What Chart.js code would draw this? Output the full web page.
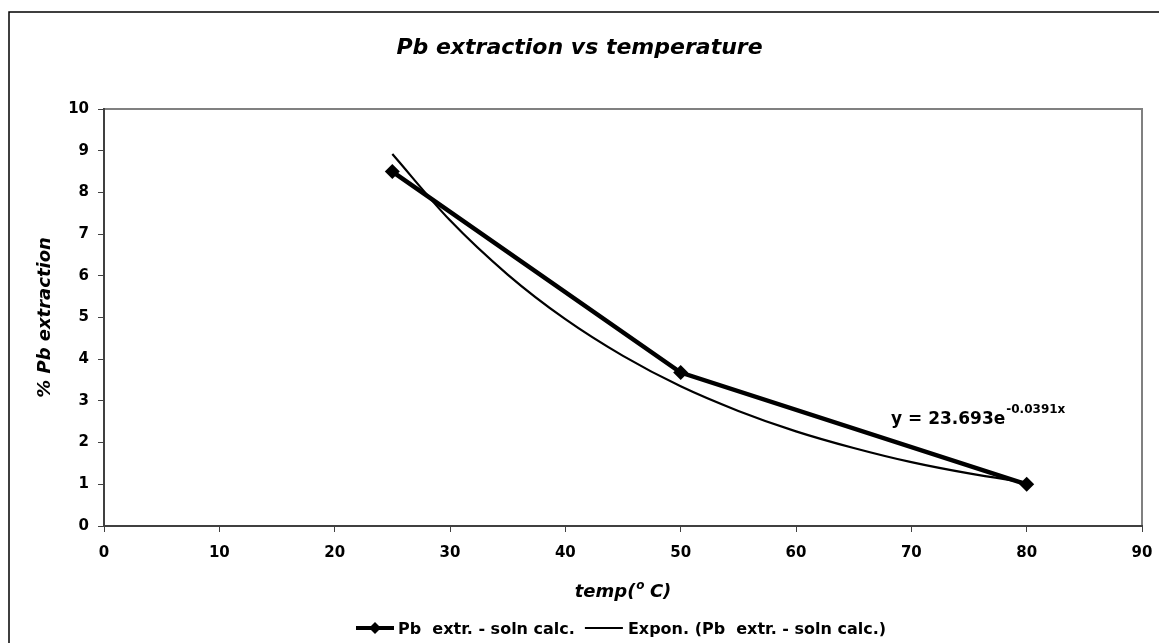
<!DOCTYPE html>
<html>
<head>
<meta charset="utf-8">
<script src="https://cdn.jsdelivr.net/npm/chart.js@4"></script>
<style>
  html, body { margin: 0; padding: 0; background: #fff; }
  #wrap { width: 1159px; height: 643px; }
</style>
</head>
<body>
<div id="wrap"><canvas id="myChart" width="1159" height="643"></canvas></div>
<script>
// measured points
const temps = [25, 50, 80];
const pbExtraction = [8.5, 3.68, 1.0];

// exponential trendline, y = 23.693e^(-0.0391x)
const trendTemps = [25, 30, 35, 40, 45, 50, 55, 60, 65, 70, 75, 80];
const trendValues = [8.92, 7.33, 6.03, 4.96, 4.08, 3.35, 2.76, 2.27, 1.87, 1.53, 1.26, 1.04];

const xRange = [0, 90];
const yRange = [0, 10];

const FONT = "'DejaVu Sans', sans-serif";

const chartFrame = {
  id: "chartFrame",
  beforeDraw(chart) {
    const { ctx, chartArea: a } = chart;
    ctx.save();
    ctx.fillStyle = "#fff";
    ctx.fillRect(0, 0, chart.width, chart.height);
    // outer frame
    ctx.strokeStyle = "#000";
    ctx.lineWidth = 1.5;
    ctx.beginPath();
    ctx.moveTo(9, chart.height + 2);
    ctx.lineTo(9, 12);
    ctx.lineTo(chart.width + 2, 12);
    ctx.stroke();
    // plot area border
    ctx.strokeStyle = "#808080";
    ctx.lineWidth = 2;
    ctx.beginPath();
    ctx.moveTo(a.left, a.top);
    ctx.lineTo(a.right, a.top);
    ctx.lineTo(a.right, a.bottom);
    ctx.stroke();
    ctx.restore();
  },
  afterDraw(chart) {
    const { ctx, chartArea: a } = chart;
    ctx.save();
    ctx.fillStyle = "#000";
    ctx.textBaseline = "alphabetic";

    // title
    ctx.font = "italic bold 22px " + FONT;
    ctx.textAlign = "center";
    ctx.fillText("Pb extraction vs temperature", chart.width / 2, 54);

    // y axis title
    ctx.save();
    ctx.translate(50, (a.top + a.bottom) / 2);
    ctx.rotate(-Math.PI / 2);
    ctx.font = "italic bold 18px " + FONT;
    ctx.fillText("% Pb extraction", 0, 0);
    ctx.restore();

    // x axis title with superscript degree
    ctx.textAlign = "left";
    ctx.font = "italic bold 18px " + FONT;
    const p1 = "temp(", p3 = " C)";
    const w1 = ctx.measureText(p1).width;
    const w3 = ctx.measureText(p3).width;
    ctx.font = "italic bold 12px " + FONT;
    const w2 = ctx.measureText("o").width;
    const total = w1 + w2 + w3;
    let x = (a.left + a.right) / 2 - total / 2;
    ctx.font = "italic bold 18px " + FONT;
    ctx.fillText(p1, x, 597);
    ctx.font = "italic bold 12px " + FONT;
    ctx.fillText("o", x + w1 + 1, 589);
    ctx.font = "italic bold 18px " + FONT;
    ctx.fillText(p3, x + w1 + w2, 597);

    // trendline equation
    ctx.font = "bold 17px " + FONT;
    const eq = "y = 23.693e";
    ctx.fillText(eq, 891, 424);
    const we = ctx.measureText(eq).width;
    ctx.font = "bold 12px " + FONT;
    ctx.fillText("-0.0391x", 891 + we + 1, 413);

    // legend
    const ly = 628;
    ctx.strokeStyle = "#000";
    ctx.lineWidth = 4;
    ctx.beginPath();
    ctx.moveTo(356, ly);
    ctx.lineTo(394, ly);
    ctx.stroke();
    ctx.beginPath();
    ctx.moveTo(375, ly - 6);
    ctx.lineTo(381, ly);
    ctx.lineTo(375, ly + 6);
    ctx.lineTo(369, ly);
    ctx.closePath();
    ctx.fill();
    ctx.font = "bold 16px " + FONT;
    const t1 = "Pb  extr. - soln calc.";
    ctx.fillText(t1, 398, 634);
    const lx = 398 + ctx.measureText(t1).width + 10;
    ctx.lineWidth = 2;
    ctx.beginPath();
    ctx.moveTo(lx, ly);
    ctx.lineTo(lx + 38, ly);
    ctx.stroke();
    ctx.fillText("Expon. (Pb  extr. - soln calc.)", lx + 43, 634);

    ctx.restore();
  }
};

const ctx = document.getElementById("myChart").getContext("2d");

new Chart(ctx, {
  type: "scatter",
  data: {
    datasets: [
      {
        label: "Expon. (Pb  extr. - soln calc.)",
        data: trendTemps.map((t, i) => ({ x: t, y: trendValues[i] })),
        showLine: true,
        borderColor: "#000",
        borderWidth: 2.2,
        pointRadius: 0,
        cubicInterpolationMode: "monotone",
      },
      {
        label: "Pb  extr. - soln calc.",
        data: temps.map((t, i) => ({ x: t, y: pbExtraction[i] })),
        showLine: true,
        borderColor: "#000",
        backgroundColor: "#000",
        borderWidth: 4.5,
        pointStyle: "rectRot",
        pointRadius: 7.5,
        pointBorderWidth: 0,
      },
    ],
  },
  options: {
    responsive: false,
    animation: false,
    layout: { padding: { top: 109, right: 17, left: 0, bottom: 0 } },
    scales: {
      x: {
        type: "linear",
        min: xRange[0],
        max: xRange[1],
        afterFit: (scale) => {
          scale.height = 117;
          scale.paddingLeft = 0;
          scale.paddingRight = 0;
        },
        ticks: {
          stepSize: 10,
          color: "#000",
          padding: 12,
          font: { family: FONT, size: 15, weight: "bold" },
        },
        grid: { drawOnChartArea: false, drawTicks: true, tickLength: 6, color: "#404040" },
        border: { display: true, color: "#404040", width: 2 },
      },
      y: {
        min: yRange[0],
        max: yRange[1],
        afterFit: (scale) => { scale.width = 104; },
        ticks: {
          stepSize: 1,
          color: "#000",
          padding: 9,
          font: { family: FONT, size: 15, weight: "bold" },
        },
        grid: { drawOnChartArea: false, drawTicks: true, tickLength: 6, color: "#404040" },
        border: { display: true, color: "#404040", width: 2 },
      },
    },
    plugins: {
      legend: { display: false },
      title: { display: false },
      tooltip: { enabled: false },
    },
  },
  plugins: [chartFrame],
});
</script>
</body>
</html>
